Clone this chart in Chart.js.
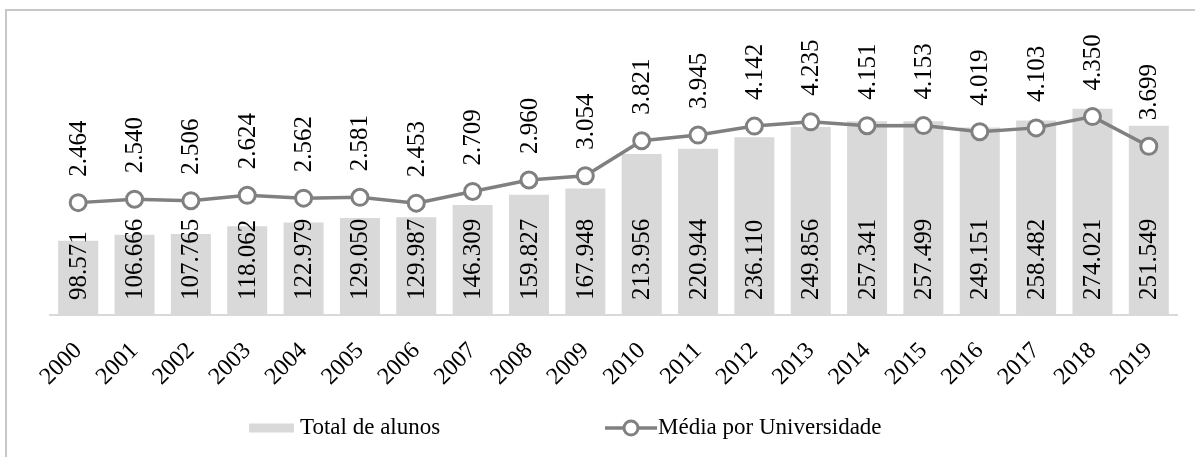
<!DOCTYPE html>
<html>
<head>
<meta charset="utf-8">
<script src="https://cdn.jsdelivr.net/npm/chart.js@4/dist/chart.umd.min.js"></script>
<style>
  html, body { margin: 0; padding: 0; background: #fff; }
  #wrap { width: 1195px; height: 457px; position: relative; }
</style>
</head>
<body>
<div id="wrap"><canvas id="grafico"></canvas></div>
<script>
// Dados do gráfico
const anos = ['2000', '2001', '2002', '2003', '2004', '2005', '2006', '2007', '2008', '2009',
              '2010', '2011', '2012', '2013', '2014', '2015', '2016', '2017', '2018', '2019'];
// Total de alunos (rótulo com ponto como separador de milhar)
const totalAlunos = [98.571, 106.666, 107.765, 118.062, 122.979, 129.050, 129.987, 146.309, 159.827, 167.948,
                     213.956, 220.944, 236.110, 249.856, 257.341, 257.499, 249.151, 258.482, 274.021, 251.549];
const mediaUniversidade = [2.464, 2.540, 2.506, 2.624, 2.562, 2.581, 2.453, 2.709, 2.960, 3.054,
                           3.821, 3.945, 4.142, 4.235, 4.151, 4.153, 4.019, 4.103, 4.350, 3.699];

const FONTE = "'Liberation Serif'";
const CINZA_BARRA = '#d9d9d9';
const CINZA_LINHA = '#808080';

// rótulos verticais (rotacionados -90°)
const rotulosPlugin = {
    id: 'rotulos',
    afterDatasetsDraw(chart) {
        const ctx = chart.ctx;
        ctx.save();
        ctx.font = '25px ' + FONTE;
        ctx.fillStyle = '#000';
        ctx.textAlign = 'left';
        ctx.textBaseline = 'middle';
        chart.data.datasets.forEach((ds, i) => {
            const meta = chart.getDatasetMeta(i);
            meta.data.forEach((el, j) => {
                const txt = ds.data[j].toFixed(3);
                const y = ds.type === 'bar' ? el.base - 15 : el.y - 26;
                ctx.save();
                ctx.translate(el.x + 1, y);
                ctx.rotate(-Math.PI / 2);
                ctx.fillText(txt, 0, 0);
                ctx.restore();
            });
        });
        ctx.restore();
    }
};

// moldura e legenda
const molduraPlugin = {
    id: 'moldura',
    beforeDraw(chart) {
        const ctx = chart.ctx;
        ctx.save();
        ctx.strokeStyle = '#c8c8c8';
        ctx.lineWidth = 2;
        ctx.beginPath();
        ctx.moveTo(6, 457);
        ctx.lineTo(6, 10);
        ctx.lineTo(1195, 10);
        ctx.stroke();
        ctx.restore();
    },
    afterDraw(chart) {
        const ctx = chart.ctx;
        const ds = chart.data.datasets;
        const yLeg = 428;
        ctx.save();
        ctx.font = '23px ' + FONTE;
        ctx.textBaseline = 'middle';
        // barra
        ctx.fillStyle = CINZA_BARRA;
        ctx.fillRect(249, yLeg - 4.5, 45, 9);
        ctx.fillStyle = '#000';
        ctx.fillText(ds[1].label, 300, yLeg);
        // linha
        ctx.strokeStyle = CINZA_LINHA;
        ctx.lineWidth = 3.5;
        ctx.beginPath();
        ctx.moveTo(605, yLeg);
        ctx.lineTo(657, yLeg);
        ctx.stroke();
        ctx.beginPath();
        ctx.arc(631, yLeg, 7, 0, Math.PI * 2);
        ctx.fillStyle = '#fff';
        ctx.fill();
        ctx.lineWidth = 3;
        ctx.stroke();
        ctx.fillStyle = '#000';
        ctx.fillText(ds[0].label, 658, yLeg);
        ctx.restore();
    }
};

new Chart(document.getElementById('grafico'), {
    data: {
        labels: anos,
        datasets: [
            {
                type: 'line',
                label: 'Média por Universidade',
                data: mediaUniversidade,
                yAxisID: 'y1',
                borderColor: CINZA_LINHA,
                borderWidth: 3.5,
                pointRadius: 8,
                pointBorderWidth: 3,
                pointBackgroundColor: '#fff',
                pointBorderColor: CINZA_LINHA,
                tension: 0,
                order: 0
            },
            {
                type: 'bar',
                label: 'Total de alunos',
                data: totalAlunos,
                yAxisID: 'y',
                backgroundColor: CINZA_BARRA,
                categoryPercentage: 1,
                barPercentage: 0.71,
                order: 1
            }
        ]
    },
    options: {
        responsive: true,
        maintainAspectRatio: false,
        animation: false,
        layout: { padding: { left: 50, right: 18, top: 14, bottom: 0 } },
        plugins: {
            legend: { display: false },
            tooltip: { enabled: false }
        },
        scales: {
            x: {
                offset: true,
                grid: { display: false },
                border: { display: true, color: CINZA_BARRA, width: 2 },
                ticks: {
                    color: '#000',
                    font: { family: FONTE, size: 24 },
                    maxRotation: 45,
                    minRotation: 45,
                    padding: 14
                },
                afterFit(scale) { scale.height = 457 - 315; }
            },
            y: { display: false, min: 0, max: 400 },
            y1: { display: false, min: 0, max: 6.6, position: 'right' }
        }
    },
    plugins: [molduraPlugin, rotulosPlugin]
});
</script>
</body>
</html>
